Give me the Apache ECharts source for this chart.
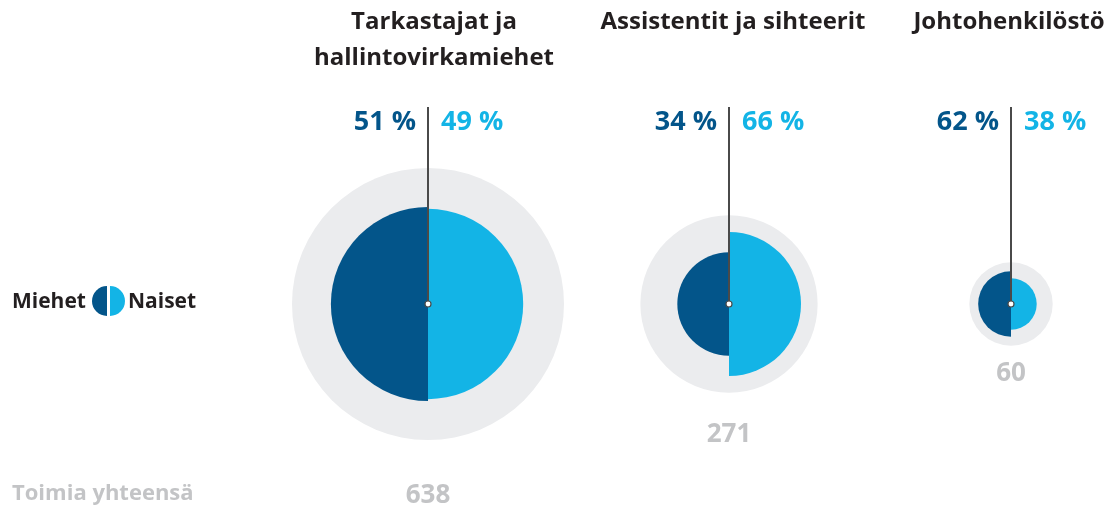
<!DOCTYPE html>
<html>
<head>
<meta charset="utf-8">
<script src="https://cdn.jsdelivr.net/npm/echarts@6/dist/echarts.min.js"></script>
<style>
  html, body { margin: 0; padding: 0; background: #fff; }
  #chart { width: 1117px; height: 510px; }
</style>
</head>
<body>
<div id="chart"></div>
<script>
// data
var groups = [["Tarkastajat ja", "hallintovirkamiehet"], ["Assistentit ja sihteerit"], ["Johtohenkilöstö"]];
var totals = [638, 271, 60];
var menPct = [51, 34, 62];
var womenPct = [49, 66, 38];
var legendLabels = ["Miehet", "Naiset"];
var totalLabel = "Toimia yhteensä";

// layout / style
var centersX = [428, 729, 1011];
var titleShift = [6, 4, -2];
var centerY = 304;
var k = 136 / Math.sqrt(638);
var darkBlue = "#03558a";
var lightBlue = "#13b4e6";
var greyFill = "#ebecee";
var greyText = "#c3c4c6";
var titleColor = "#231f20";
var font = "'Open Sans'";

var chart = echarts.init(document.getElementById("chart"));

var series = [];
var graphic = [];

for (var i = 0; i < totals.length; i++) {
    var cx = centersX[i];
    var rTotal = k * Math.sqrt(totals[i]);
    var rMen = k * Math.sqrt(totals[i] * menPct[i] / 100);
    var rWomen = k * Math.sqrt(totals[i] * womenPct[i] / 100);

    series.push({
        type: "pie",
        silent: true,
        center: [cx, centerY],
        radius: [0, rTotal],
        label: { show: false },
        labelLine: { show: false },
        data: [{ value: totals[i], itemStyle: { color: greyFill } }]
    });
    // women: right half
    series.push({
        type: "pie",
        silent: true,
        center: [cx, centerY],
        radius: [0, rWomen],
        startAngle: 90,
        clockwise: true,
        label: { show: false },
        labelLine: { show: false },
        data: [
            { value: 1, itemStyle: { color: lightBlue } },
            { value: 1, itemStyle: { color: "rgba(0,0,0,0)" } }
        ]
    });
    // men: left half
    series.push({
        type: "pie",
        silent: true,
        center: [cx, centerY],
        radius: [0, rMen],
        startAngle: 90,
        clockwise: false,
        label: { show: false },
        labelLine: { show: false },
        data: [
            { value: 1, itemStyle: { color: darkBlue } },
            { value: 1, itemStyle: { color: "rgba(0,0,0,0)" } }
        ]
    });

    // vertical line + center dot
    graphic.push({
        type: "line", silent: true, z: 100,
        shape: { x1: cx, y1: 107, x2: cx, y2: centerY },
        style: { stroke: "#4a4a4a", lineWidth: 2 }
    });
    graphic.push({
        type: "circle", silent: true, z: 101,
        shape: { cx: cx, cy: centerY, r: 3 },
        style: { fill: "#fff", stroke: "#4a4a4a", lineWidth: 1.2 }
    });

    // percentages
    graphic.push({
        type: "text", z: 100, x: cx - 12, y: 122,
        style: { text: menPct[i] + " %", fill: darkBlue, font: "bold 27px " + font, align: "right", verticalAlign: "middle" }
    });
    graphic.push({
        type: "text", z: 100, x: cx + 13, y: 122,
        style: { text: womenPct[i] + " %", fill: lightBlue, font: "bold 27px " + font, align: "left", verticalAlign: "middle" }
    });

    // titles
    for (var j = 0; j < groups[i].length; j++) {
        graphic.push({
            type: "text", z: 100, x: cx + titleShift[i], y: 22 + j * 36,
            style: { text: groups[i][j], fill: titleColor, font: "bold 24px " + font, align: "center", verticalAlign: "middle" }
        });
    }

    // total
    graphic.push({
        type: "text", z: 100, x: cx, y: centerY + rTotal * 1.3 + 15,
        style: { text: String(totals[i]), fill: greyText, font: "bold 26px " + font, align: "center", verticalAlign: "middle" }
    });
}

// legend
graphic.push({
    type: "text", x: 12, y: 302,
    style: { text: legendLabels[0], fill: titleColor, font: "bold 21px " + font, align: "left", verticalAlign: "middle" }
});
graphic.push({
    type: "sector", silent: true,
    shape: { cx: 107, cy: 301, r0: 0, r: 15, startAngle: Math.PI / 2, endAngle: Math.PI * 1.5 },
    style: { fill: darkBlue }
});
graphic.push({
    type: "sector", silent: true,
    shape: { cx: 110, cy: 301, r0: 0, r: 15, startAngle: -Math.PI / 2, endAngle: Math.PI / 2 },
    style: { fill: lightBlue }
});
graphic.push({
    type: "text", x: 128, y: 302,
    style: { text: legendLabels[1], fill: titleColor, font: "bold 21px " + font, align: "left", verticalAlign: "middle" }
});
graphic.push({
    type: "text", x: 12, y: 494,
    style: { text: totalLabel, fill: greyText, font: "bold 22px " + font, align: "left", verticalAlign: "middle" }
});

chart.setOption({
    animation: false,
    series: series,
    graphic: graphic
});
</script>
</body>
</html>
